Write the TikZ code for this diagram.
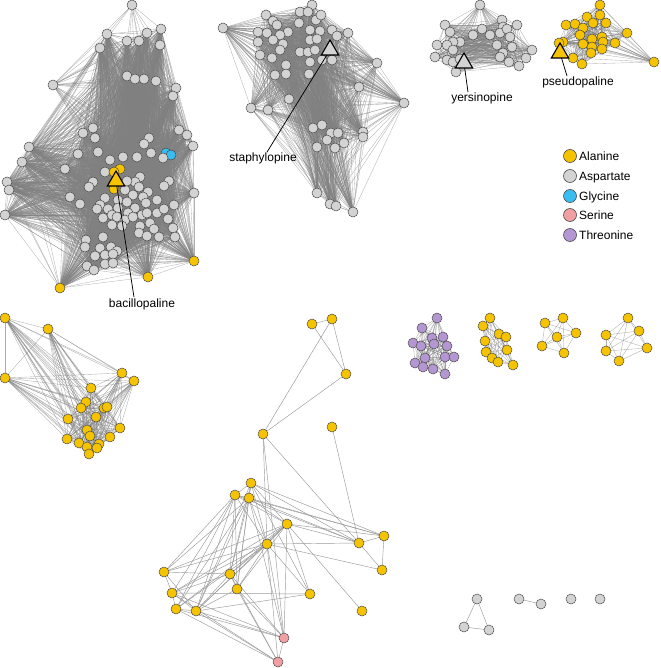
\documentclass[tikz,border=0pt]{standalone}
\usepackage{fontspec}
\setmainfont{Liberation Sans}
\usetikzlibrary{shapes.geometric}
\pgfdeclarelayer{bg}\pgfdeclarelayer{ptr}\pgfdeclarelayer{top}
\pgfsetlayers{bg,main,ptr,top}
\definecolor{ala}{HTML}{F5C300}
\definecolor{asp}{HTML}{D3D3D3}
\definecolor{gly}{HTML}{38BDF0}
\definecolor{ser}{HTML}{F0A0A2}
\definecolor{thr}{HTML}{B496D2}
\definecolor{edgec}{HTML}{808080}
\tikzset{
  vtx/.style={circle,draw=black!70,line width=0.5pt,minimum size=10pt,inner sep=0pt},
  tri/.style={regular polygon,regular polygon sides=3,draw=black,line width=1.1pt,minimum size=20pt,inner sep=0pt},
  lab/.style={font=\fontsize{12}{14}\selectfont,inner sep=1pt},
  pointer/.style={draw=black,line width=0.75pt},
  dense/.style={draw=edgec,line width=0.35pt,draw opacity=0.6},
  mid/.style={draw=edgec,line width=0.35pt,draw opacity=0.65},
  sparse/.style={draw=black!40,line width=0.45pt},
  leg/.style={circle,draw=black!70,line width=0.6pt,minimum size=13pt,inner sep=0pt},
}
\newcommand\fullgraph[2]{%
  \foreach \i in {2,...,#2}{%
    \foreach \j in {1,...,\i}{%
      \ifnum\j<\i
        \pgfpathmoveto{\pgfpointanchor{#1\i}{center}}%
        \pgfpathlineto{\pgfpointanchor{#1\j}{center}}%
        \pgfusepath{stroke}%
      \fi}}}
\begin{document}
\begin{tikzpicture}[x=1pt,y=-1pt]
\useasboundingbox (0,0) rectangle (660,668);

% ---------- cluster 1 (bacillopaline) ----------
\node[vtx,fill=asp] (apex) at (132,5) {};
\node[vtx,fill=asp] (lf) at (53,85) {};
\foreach \x/\y/\c [count=\k] in {107/34/asp,147/33/asp,161/29/asp,127/41/asp,139/41/asp,100/48/asp,160/45/asp,
 127/76/asp,135/79/asp,144/79/asp,156/81/asp,176/88/asp,173/96/asp,93/128/asp,83/133/asp,95/138/asp,
 179/130/asp,187/135/asp,193/146/asp,149/138/asp,144/144/asp,29/147/asp,22/162/asp,78/154/asp,98/152/asp,
 110/160/asp,123/157/asp,137/157/asp,151/153/asp,166/153/gly,171/155/gly,163/158/asp,65/169/asp,
 105/172/asp,7/182/asp,9/190/asp,93/182/asp,89/187/asp,140/177/asp,135/182/asp,169/181/asp,
 164/186/asp,194/193/asp,5/215/asp,70/197/asp,80/204/asp,105/198/asp,118/200/asp,125/190/asp,133/195/asp,
 139/187/asp,148/192/asp,157/200/asp,143/197/asp,127/202/asp,135/208/asp,146/203/asp,100/205/asp,97/209/asp,
 108/209/asp,118/208/asp,128/213/asp,142/215/asp,147/213/asp,157/213/asp,164/209/asp,174/205/asp,112/215/asp,
 117/217/asp,103/218/asp,125/220/asp,133/217/asp,168/219/asp,112/225/asp,122/226/asp,140/226/asp,150/223/asp,
 173/228/asp,154/229/asp,139/233/asp,147/236/asp,159/237/asp,175/237/asp,103/237/asp,86/240/asp,85/247/asp,
 100/248/asp,111/247/asp,117/251/asp,95/256/asp,105/255/asp,113/254/asp,87/266/asp,105/264/asp,113/263/asp,
 94/270/asp,127/181/asp,120/169/ala,114/172/ala,114/189/ala,194/261/ala,148/277/ala,60/288/ala}
 {\node[vtx,fill=\c] (c\k) at (\x,\y) {}; \xdef\Nc{\k}}

% ---------- cluster 2 (staphylopine) ----------
\foreach \x/\y [count=\k] in {223/28,266/15,273/21,258/32,277/25,267/33,288/32,280/35,258/42,273/40,283/44,
 260/55,272/58,280/50,286/65,275/75,286/74,300/12,312/5,308/12,316/20,321/15,299/23,310/30,320/31,332/30,
 348/33,337/36,310/40,317/39,300/52,308/52,315/50,310/62,322/60,332/60,309/74,377/63,359/87,404/103,289/99,
 251/108,268/110,313/128,322/125,331/133,338/133,363/132,363/137,327/140,317/147,335/148,344/143,317/193,
 330/204,336/206,353/212}
 {\node[vtx,fill=asp] (s\k) at (\x,\y) {}; \xdef\Ns{\k}}

% ---------- cluster 3 (yersinopine) ----------
\foreach \x/\y [count=\k] in {480/5,445/25,450/32,473/35,482/29,490/35,502/20,503/27,517/25,500/33,507/29,
 510/37,460/42,453/42,437/45,447/45,453/50,435/57,512/47,497/45,503/53,500/57,532/50,526/58,509/62,519/66,
 447/60,453/62,460/59,456/72}
 {\node[vtx,fill=asp] (y\k) at (\x,\y) {}; \xdef\Ny{\k}}

% ---------- cluster 4 (pseudopaline) ----------
\foreach \x/\y [count=\k] in {600/5,587/17,600/15,566/25,575/24,583/28,593/23,606/23,580/35,592/39,602/37,
 627/33,563/42,559/43,583/44,603/42,615/43,592/47,602/49,591/53,573/58,582/64,654/62}
 {\node[vtx,fill=ala] (p\k) at (\x,\y) {}; \xdef\Np{\k}}

% ---------- cluster 5 (left yellow) ----------
\foreach \x/\y [count=\k] in {5/318,48/329,5/378,122/373,134/381,91/388,86/402,81/408,104/408,107/407,
 96/417,68/419,120/428,87/430,90/436,110/437,67/439,79/443,87/447,99/444,97/448,89/454}
 {\node[vtx,fill=ala] (l\k) at (\x,\y) {}; \xdef\Nl{\k}}

% ---------- cluster 6 (sparse) ----------
\foreach \n/\x/\y/\c in {A/312/324/ala,B/332/319/ala,C/346/374/ala,D/263/434/ala,E/332/427/ala,
 F/251/483/ala,G/235/495/ala,H/249/498/ala,I/287/524/ala,J/267/544/ala,K/359/543/ala,L/384/536/ala,
 M/382/570/ala,N/164/572/ala,O/230/574/ala,P/237/589/ala,Q/172/593/ala,R/310/594/ala,S/176/609/ala,
 T/196/611/ala,U/362/611/ala,V/284/638/ser,W/278/662/ser}
 {\node[vtx,fill=\c] (x\n) at (\x,\y) {};}

% ---------- small clusters ----------
\foreach \x/\y [count=\k] in {437/318,422/328,432/338,443/337,413/343,421/346,434/344,447/346,425/358,
 445/357,454/357,415/363,423/367,433/369,445/374}
 {\node[vtx,fill=thr] (t\k) at (\x,\y) {}; \xdef\Nt{\k}}
\foreach \x/\y [count=\k] in {490/318,483/326,499/334,506/337,485/341,507/350,486/352,492/358,498/362,513/365}
 {\node[vtx,fill=ala] (e\k) at (\x,\y) {}; \xdef\Ne{\k}}
\foreach \x/\y [count=\k] in {545/323,563/318,576/333,557/337,542/346,564/353}
 {\node[vtx,fill=ala] (h\k) at (\x,\y) {};}
\foreach \x/\y [count=\k] in {628/318,639/331,606/335,647/348,606/351,619/361}
 {\node[vtx,fill=ala] (k\k) at (\x,\y) {};}
\foreach \x/\y [count=\k] in {477/599,464/627,489/630,519/599,541/604,571/599,600/599}
 {\node[vtx,fill=asp] (g\k) at (\x,\y) {};}

% ---------- legend ----------
\foreach \c/\t/\y [count=\k] in {ala/Alanine/156,asp/Aspartate/176,gly/Glycine/196,ser/Serine/215,thr/Threonine/235}{
  \node[leg,fill=\c] (lg\k) at (570,\y) {};
  \node[lab,anchor=base west] (lt\k) at (578,\y+4.4) {\t};
}

% ---------- triangles and labels ----------
\begin{pgfonlayer}{top}
\node[tri,fill=ala] (tb) at (116,181) {};
\node[tri,fill=asp] (ts) at (330,50) {};
\node[tri,fill=asp] (ty) at (464,63) {};
\node[tri,fill=ala] (tp) at (560,53) {};
\end{pgfonlayer}
\node[lab,anchor=base] (lb) at (142,307) {bacillopaline};
\node[lab,anchor=base] (ls) at (263,162) {staphylopine};
\node[lab,anchor=base] (ly) at (482,102) {yersinopine};
\node[lab,anchor=base] (lp) at (578,86) {pseudopaline};
\begin{pgfonlayer}{ptr}
\draw[pointer] (tb.center) -- ([xshift=-8pt]lb.north);
\draw[pointer] (ts.center) -- ([xshift=4pt]ls.north);
\draw[pointer] (ty.center) -- ([xshift=-14pt]ly.north);
\draw[pointer] (tp.center) -- ([xshift=-11pt]lp.north);
\end{pgfonlayer}

% ---------- edges ----------
\begin{pgfonlayer}{bg}
\begin{scope}[dense]
  \fullgraph{c}{\Nc}
  \foreach \j in {1,...,11}{\draw (apex.center) -- (c\j.center);}
  \draw (apex.center) -- (lf.center);
  \foreach \j in {1,...,16,20,21,25,26,27,28,29}{\draw (lf.center) -- (c\j.center);}
  \fullgraph{s}{\Ns}
  \fullgraph{y}{\Ny}
  \fullgraph{p}{\Np}
\end{scope}
\begin{scope}[mid]
  \fullgraph{l}{\Nl}
  \fullgraph{t}{\Nt}
  \fullgraph{e}{\Ne}
  \fullgraph{h}{6}
  \fullgraph{k}{6}
\end{scope}
\begin{scope}[sparse]
  \foreach \a/\b in {A/B,A/C,B/C,B/D,C/D,D/J,D/K,D/V,E/K,
   F/G,F/H,G/H,F/I,F/J,F/K,F/L,F/O,F/P,F/R,F/T,
   G/I,G/J,G/N,G/O,G/P,G/Q,G/S,G/T,G/K,G/L,
   H/I,H/J,H/K,H/L,H/O,H/P,H/T,H/S,H/V,H/N,
   I/J,I/K,I/L,I/N,I/O,I/P,I/Q,I/R,I/T,I/U,I/V,I/S,
   J/K,J/M,J/N,J/O,J/P,J/Q,J/S,J/T,J/V,J/W,J/R,
   K/L,K/M,L/M,N/O,N/Q,N/T,O/P,O/T,O/V,O/W,O/Q,
   P/T,P/V,P/W,Q/R,Q/S,Q/T,Q/V,Q/W,S/T,S/V,S/W,T/V,T/W,T/R,V/W}
   {\draw (x\a.center) -- (x\b.center);}
  \draw (g1.center) -- (g2.center);
  \draw (g1.center) -- (g3.center);
  \draw (g2.center) -- (g3.center);
  \draw (g4.center) -- (g5.center);
\end{scope}
\end{pgfonlayer}
\end{tikzpicture}
\end{document}
